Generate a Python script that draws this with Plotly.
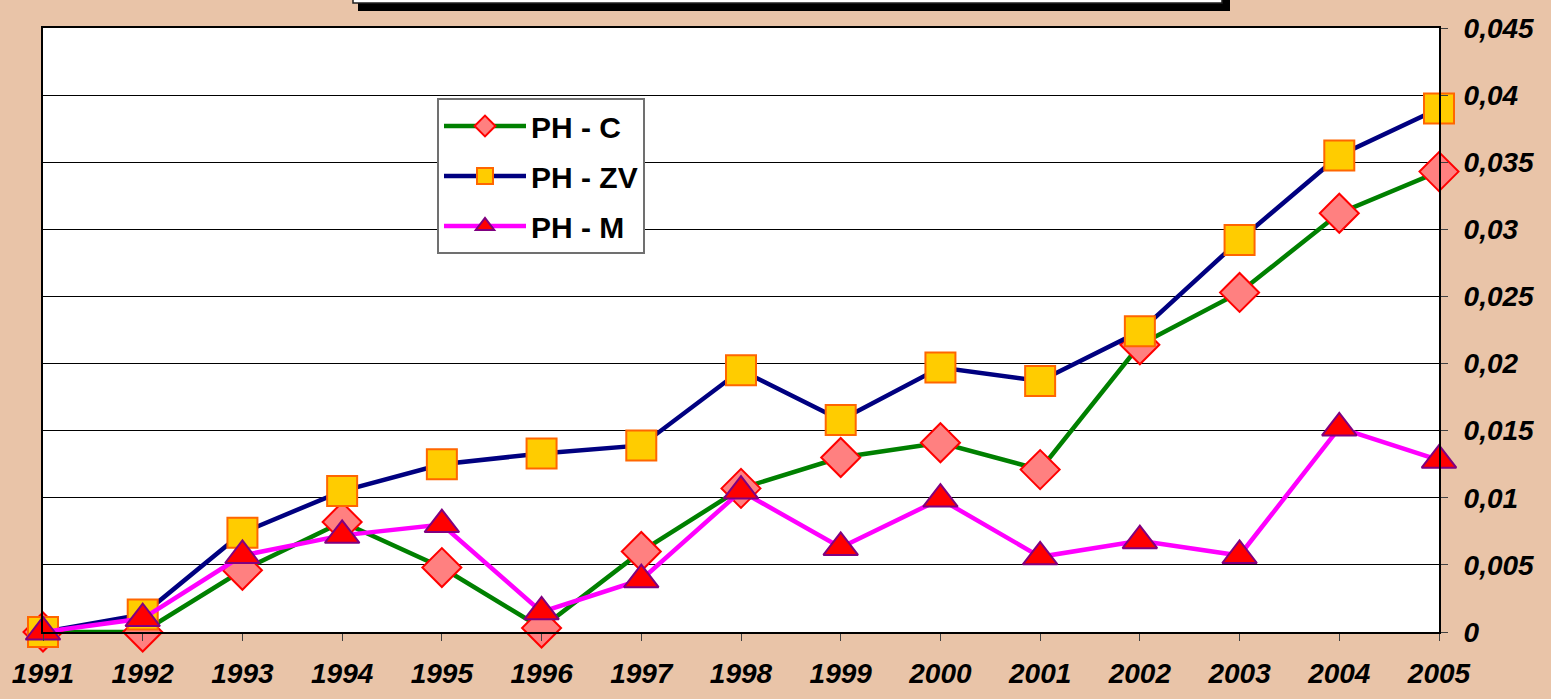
import plotly.graph_objects as go

years = [1991, 1992, 1993, 1994, 1995, 1996, 1997, 1998, 1999, 2000, 2001, 2002, 2003, 2004, 2005]
ph_c = [0.0, 0.0, 0.0046, 0.0082, 0.0048, 0.0003, 0.0060, 0.0107, 0.0130, 0.0141, 0.0121, 0.0214, 0.0253, 0.0312, 0.0343]
ph_zv = [0.0, 0.0013, 0.0074, 0.0105, 0.0125, 0.0133, 0.0139, 0.0195, 0.0158, 0.0197, 0.0187, 0.0224, 0.0292, 0.0355, 0.0390]
ph_m = [0.0, 0.0010, 0.0057, 0.0072, 0.0080, 0.0015, 0.0039, 0.0105, 0.0063, 0.0099, 0.0056, 0.0068, 0.0057, 0.0152, 0.0128]
y_ticks = [0, 0.005, 0.01, 0.015, 0.02, 0.025, 0.03, 0.035, 0.04, 0.045]
y_tick_labels = ["0", "0,005", "0,01", "0,015", "0,02", "0,025", "0,03", "0,035", "0,04", "0,045"]
x_tick_labels = [str(y) for y in years]

BG = "#E9C4A8"
W, H = 1551, 699
L, R, T, B = 43, 112, 28, 67
PW, PH = W - L - R, H - T - B

def px(x):
    return (x - L) / PW

def py(y):
    return (H - B - y) / PH

fig = go.Figure()
fig.add_trace(go.Scatter(
    x=years, y=ph_c, name="PH - C", mode="lines+markers", legendgroup="a",
    line=dict(color="#008000", width=4.5),
    marker=dict(symbol="diamond", size=30, color="#FF8080", line=dict(color="#FF0000", width=2)),
    cliponaxis=False))
fig.add_trace(go.Scatter(
    x=years, y=ph_zv, name="PH - ZV", mode="lines+markers", legendgroup="b",
    line=dict(color="#000080", width=4.5),
    marker=dict(symbol="square", size=30, color="#FFCC00", line=dict(color="#FF6600", width=2)),
    cliponaxis=False))
fig.add_trace(go.Scatter(
    x=years, y=ph_m, name="PH - M", mode="lines+markers", legendgroup="c",
    line=dict(color="#FF00FF", width=4.5),
    marker=dict(symbol="triangle-up", size=30, color="#FF0000", line=dict(color="#800080", width=2)),
    cliponaxis=False))

tick_font = dict(family="Liberation Sans, Arial", size=28, color="black", weight="bold", style="italic")

shapes = [
    dict(type="rect", xref="paper", yref="paper", x0=px(358), x1=px(1230), y0=py(11), y1=py(-20),
         fillcolor="black", line=dict(width=0), layer="above"),
    dict(type="rect", xref="paper", yref="paper", x0=px(353), x1=px(1222), y0=py(3), y1=py(-20),
         fillcolor="white", line=dict(color="#202020", width=1.5), layer="above"),
]

fig.update_layout(
    template="none",
    width=W, height=H,
    margin=dict(l=L, r=R, t=T, b=B, autoexpand=False),
    paper_bgcolor=BG,
    plot_bgcolor="white",
    showlegend=True,
    hovermode=False,
    shapes=shapes,
    legend=dict(
        x=px(437), y=py(98), xanchor="left", yanchor="top",
        bgcolor="white", bordercolor="#707070", borderwidth=2,
        font=dict(family="Liberation Sans, Arial", size=30, color="black", weight="bold"),
        tracegroupgap=8, itemwidth=82, traceorder="grouped",
    ),
    xaxis=dict(
        range=[1991, 2005], tickvals=years, ticktext=x_tick_labels,
        showgrid=False, zeroline=False, automargin=False,
        showline=True, linecolor="black", linewidth=2, mirror=True,
        ticks="outside", ticklen=7, tickcolor="#404040", tickwidth=1,
        tickfont=tick_font, ticklabelstandoff=8,
    ),
    yaxis=dict(
        range=[0, 0.045], tickvals=y_ticks, ticktext=y_tick_labels, side="right",
        showgrid=True, gridcolor="black", gridwidth=1, zeroline=False, automargin=False,
        showline=True, linecolor="black", linewidth=2, mirror=True,
        ticks="outside", ticklen=7, tickcolor="#404040", tickwidth=1,
        tickfont=tick_font, ticklabelstandoff=10,
    ),
)

fig.write_html(
    "out.html",
    config={"displayModeBar": False},
    post_script="document.body.style.margin='0';document.body.style.background='" + BG + "';",
)
